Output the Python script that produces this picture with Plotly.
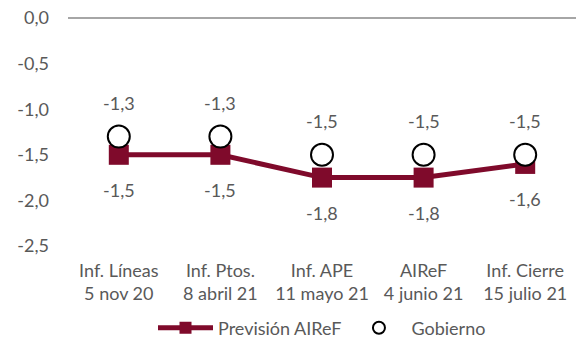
import plotly.graph_objects as go

categories = ["Inf. Líneas<br>5 nov 20", "Inf. Ptos.<br>8 abril 21", "Inf. APE<br>11 mayo 21",
              "AIReF<br>4 junio 21", "Inf. Cierre<br>15 julio 21"]
airef = [-1.5, -1.5, -1.75, -1.75, -1.6]
airef_labels = ["-1,5", "-1,5", "-1,8", "-1,8", "-1,6"]
gobierno = [-1.3, -1.3, -1.5, -1.5, -1.5]
gobierno_labels = ["-1,3", "-1,3", "-1,5", "-1,5", "-1,5"]
y_ticks = [0, -0.5, -1.0, -1.5, -2.0, -2.5]
y_tick_labels = ["0,0", "-0,5", "-1,0", "-1,5", "-2,0", "-2,5"]

MAROON = "#7F0A2B"
TEXT = "#595959"
FONT = "Lato"
FS = 18

fig = go.Figure()
fig.add_trace(go.Scatter(
    x=categories, y=airef, name="Previsión AIReF", mode="lines+markers",
    line=dict(color=MAROON, width=5),
    marker=dict(symbol="square", size=20, color=MAROON),
))
fig.add_trace(go.Scatter(
    x=categories, y=gobierno, name="Gobierno", mode="markers",
    marker=dict(symbol="circle", size=22, color="white", line=dict(color="black", width=2)),
))

annotations = []
for c, v, t in zip(categories, gobierno, gobierno_labels):
    annotations.append(dict(x=c, y=v, text=t, showarrow=False, yshift=34,
                            font=dict(family=FONT, size=FS, color=TEXT)))
for c, v, t in zip(categories, airef, airef_labels):
    annotations.append(dict(x=c, y=v, text=t, showarrow=False, yshift=-35,
                            font=dict(family=FONT, size=FS, color=TEXT)))

fig.update_layout(
    width=579, height=343,
    margin=dict(l=68, r=3, t=18, b=97),
    paper_bgcolor="white", plot_bgcolor="white",
    font=dict(family=FONT, size=FS, color=TEXT),
    showlegend=True,
    legend=dict(orientation="h", x=0.5, xanchor="center", yref="container",
                y=15 / 343, yanchor="middle",
                font=dict(family=FONT, size=FS, color=TEXT), itemwidth=55,
                itemsizing="constant", tracegroupgap=0),
    annotations=annotations,
    xaxis=dict(type="category", range=[-0.5, 4.5], showgrid=False, showline=False,
               ticks="", tickfont=dict(family=FONT, size=FS, color=TEXT),
               ticklabelstandoff=12, automargin=False),
    yaxis=dict(range=[-2.5, 0], tickvals=y_ticks, ticktext=y_tick_labels,
               showgrid=False, zeroline=True, zerolinecolor="#A6A6A6", zerolinewidth=1.5,
               showline=False, ticks="", tickfont=dict(family=FONT, size=FS, color=TEXT),
               ticklabelstandoff=18, automargin=False),
)

fig.write_html("out.html")
